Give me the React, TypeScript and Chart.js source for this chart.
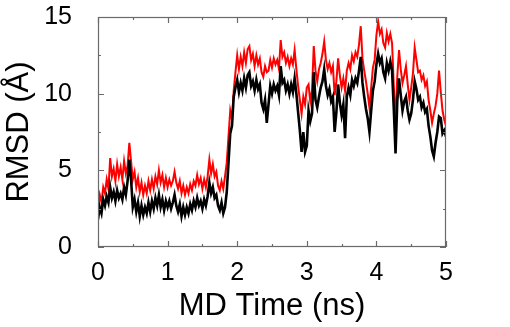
import React, { useEffect, useRef } from "react";
import { Chart, registerables } from "chart.js";

Chart.register(...registerables);

// time step between samples (ns)
const STEP = 0.025;

// RMSD of the red trace (Å), one value every 0.025 ns from 0 to 5 ns
const redValues = [
  2.6, 3.4, 2.9, 3.9, 3.5, 4.4, 3.8, 5.8, 4.6, 5.1,
  4.3, 5.4, 4.6, 5.2, 4.4, 5.6, 4.8, 5.3, 6.8, 5.6,
  4.4, 4.9, 3.9, 4.5, 3.6, 4.2, 3.4, 4.0, 3.5, 4.3,
  3.7, 4.4, 3.8, 4.6, 4.1, 5.0, 4.2, 4.7, 3.9, 4.5,
  3.9, 4.4, 4.0, 4.3, 4.9, 4.2, 3.8, 4.3, 3.5, 4.0,
  3.4, 3.9, 3.5, 4.1, 3.7, 4.3, 4.0, 4.7, 4.1, 4.5,
  3.8, 4.4, 3.9, 4.6, 5.7, 4.8, 5.4, 4.6, 4.9, 4.0,
  3.7, 4.3, 3.8, 4.6, 5.5, 7.2, 8.9, 8.3, 10.2, 11.4,
  12.5, 11.6, 12.4, 11.8, 12.7, 12.0, 12.9, 13.1, 12.2, 12.6,
  11.8, 12.5, 11.9, 12.3, 11.4, 11.1, 11.8, 11.4, 11.5, 12.2,
  11.7, 12.3, 11.9, 12.2, 11.6, 13.5, 12.4, 12.7, 12.0, 12.4,
  11.8, 12.3, 11.9, 12.85, 11.6, 10.5, 9.6, 8.7, 9.8, 9.3,
  10.4, 10.6, 9.5, 10.2, 13.1, 11.5, 10.8, 11.6, 12.0, 12.6,
  13.4, 12.2, 11.6, 12.0, 11.4, 11.8, 9.9, 10.8, 12.3, 11.2,
  10.4, 11.0, 10.2, 11.5, 12.0, 11.6, 12.5, 12.1, 12.7, 12.4,
  13.2, 14.4, 12.3, 11.5, 10.8, 10.0, 9.1, 10.4, 11.7, 12.2,
  13.8, 14.7, 13.9, 14.2, 13.3, 13.0, 13.95, 13.4, 13.9, 13.3,
  10.5, 8.1, 11.1, 12.85, 11.6, 10.7, 11.2, 11.8, 10.6, 9.6,
  10.4, 11.3, 13.0, 12.2, 11.4, 11.5, 10.9, 11.2, 10.5, 10.8,
  9.6, 8.9, 8.1, 8.7, 9.2, 10.0, 11.5, 10.1, 8.9, 8.3,
  7.9,
];

// RMSD of the black trace (Å), same sampling
const blackValues = [
  1.8, 2.6, 2.2, 3.1, 2.7, 3.3, 2.9, 3.9, 3.2, 3.6,
  3.0, 3.7, 3.2, 3.5, 3.1, 3.9, 3.4, 4.3, 5.7, 4.4,
  2.6, 3.1, 2.3, 2.9, 2.0, 2.7, 2.1, 2.6, 2.2, 2.9,
  2.3, 3.0, 2.5, 3.2, 2.7, 3.4, 2.6, 3.1, 2.4, 3.0,
  2.6, 3.0, 2.5, 2.9, 3.4, 2.7, 2.3, 2.8, 2.0, 2.6,
  2.1, 2.6, 2.2, 2.8, 2.4, 3.0, 2.6, 3.2, 2.7, 3.0,
  2.5, 3.1, 2.7, 3.3, 4.2, 3.5, 3.9, 3.2, 3.4, 2.7,
  2.4, 2.9, 2.2, 2.6, 3.6, 5.5, 7.4, 7.9, 9.8, 10.4,
  10.9, 10.1, 10.7, 10.2, 11.0, 10.4, 11.2, 11.4, 10.5, 10.8,
  10.2, 10.9, 10.3, 10.6, 9.4, 9.0, 9.6, 8.1, 9.3, 10.5,
  10.0, 10.6, 10.2, 10.5, 9.9, 11.8, 10.7, 10.9, 10.2, 10.6,
  10.0, 10.6, 10.1, 11.0, 10.0, 8.8, 7.6, 6.2, 7.5, 6.2,
  6.6, 8.9, 8.2, 8.7, 11.4, 9.6, 9.1, 9.8, 10.4, 10.8,
  11.6, 10.5, 9.9, 10.3, 9.5, 9.8, 7.5, 8.8, 10.6, 9.4,
  8.6, 9.3, 7.1, 9.8, 10.4, 9.9, 10.9, 10.5, 11.0, 10.7,
  11.5, 12.4, 10.7, 9.8, 9.0, 8.4, 7.5, 8.9, 10.2, 10.8,
  11.9, 12.6, 12.0, 12.3, 11.4, 11.0, 12.0, 11.5, 12.1, 11.5,
  9.0, 6.1, 9.5, 11.0, 9.9, 8.9, 9.5, 9.8, 8.9, 8.3,
  8.7, 9.6, 10.8, 10.3, 9.6, 9.8, 9.1, 9.4, 8.8, 9.0,
  7.9, 7.2, 6.3, 5.9, 6.8, 7.5, 8.5, 8.4, 7.4, 7.6,
  7.2,
];

const times = redValues.map((_, i) => Math.round(i * STEP * 1000) / 1000);

const xMinorTicks = [0, 0.5, 1, 1.5, 2, 2.5, 3, 3.5, 4, 4.5, 5];
const yMinorTicks = [0, 2.5, 5, 7.5, 10, 12.5, 15];

const FONT = "'Liberation Sans', Arial, Helvetica, sans-serif";
const FRAME = "#6a6a6a";

const framePlugin = {
  id: "frameTicks",
  afterDraw(chart: any) {
    const { ctx, chartArea: a, scales } = chart;
    const xs = scales.x;
    const ys = scales.y;
    ctx.save();
    ctx.strokeStyle = FRAME;
    ctx.lineWidth = 1.2;
    ctx.strokeRect(a.left + 0.5, a.top + 0.5, a.right - a.left - 1, a.bottom - a.top - 1);
    ctx.beginPath();
    xMinorTicks.forEach((v) => {
      const px = Math.round(xs.getPixelForValue(v)) + 0.5;
      const len = Number.isInteger(v) ? 6 : 3;
      ctx.moveTo(px, a.bottom);
      ctx.lineTo(px, a.bottom - len);
      ctx.moveTo(px, a.top);
      ctx.lineTo(px, a.top + len);
    });
    yMinorTicks.forEach((v) => {
      const py = Math.round(ys.getPixelForValue(v)) + 0.5;
      const len = v % 5 === 0 ? 6 : 3;
      ctx.moveTo(a.left, py);
      ctx.lineTo(a.left + len, py);
      ctx.moveTo(a.right, py);
      ctx.lineTo(a.right - len, py);
    });
    ctx.stroke();
    ctx.restore();
  },
};

export default function App() {
  const ref = useRef<HTMLCanvasElement | null>(null);

  useEffect(() => {
    if (!ref.current) return;
    const chart = new Chart(ref.current, {
      type: "line",
      data: {
        datasets: [
          {
            label: "red",
            data: times.map((t, i) => ({ x: t, y: redValues[i] })),
            borderColor: "#ff0000",
            borderWidth: 2,
            pointRadius: 0,
            tension: 0,
            order: 2,
          },
          {
            label: "black",
            data: times.map((t, i) => ({ x: t, y: blackValues[i] })),
            borderColor: "#000000",
            borderWidth: 2.6,
            pointRadius: 0,
            tension: 0,
            order: 1,
          },
        ],
      },
      options: {
        animation: false,
        responsive: false,
        maintainAspectRatio: false,
        layout: { padding: { left: 0, right: 64, top: 17, bottom: 0 } },
        plugins: { legend: { display: false }, tooltip: { enabled: false } },
        scales: {
          x: {
            type: "linear",
            min: 0,
            max: 5,
            grid: { display: false },
            border: { display: false },
            ticks: {
              stepSize: 1,
              autoSkip: false,
              maxRotation: 0,
              padding: 3,
              color: "#000",
              font: { family: FONT, size: 25 },
            },
            title: {
              display: true,
              text: "MD Time (ns)",
              color: "#000",
              font: { family: FONT, size: 31 },
              padding: { top: 0, bottom: 2 },
            },
            afterFit: (s: any) => {
              s.height = 80;
              s.paddingLeft = 0;
              s.paddingRight = 0;
            },
          },
          y: {
            type: "linear",
            min: 0,
            max: 15,
            grid: { display: false },
            border: { display: false },
            ticks: {
              stepSize: 5,
              autoSkip: false,
              padding: 18,
              color: "#000",
              font: { family: FONT, size: 25 },
            },
            title: {
              display: true,
              text: "RMSD (Å)",
              color: "#000",
              font: { family: FONT, size: 31 },
              padding: { top: 1, bottom: 0 },
            },
            afterFit: (s: any) => {
              s.width = 98;
              s.paddingTop = 0;
              s.paddingBottom = 0;
            },
          },
        },
      },
      plugins: [framePlugin],
    });
    return () => chart.destroy();
  }, []);

  return (
    <div style={{ position: "fixed", left: 0, top: 0, width: 510, height: 327, background: "#fff" }}>
      <canvas ref={ref} width={510} height={327} />
    </div>
  );
}
